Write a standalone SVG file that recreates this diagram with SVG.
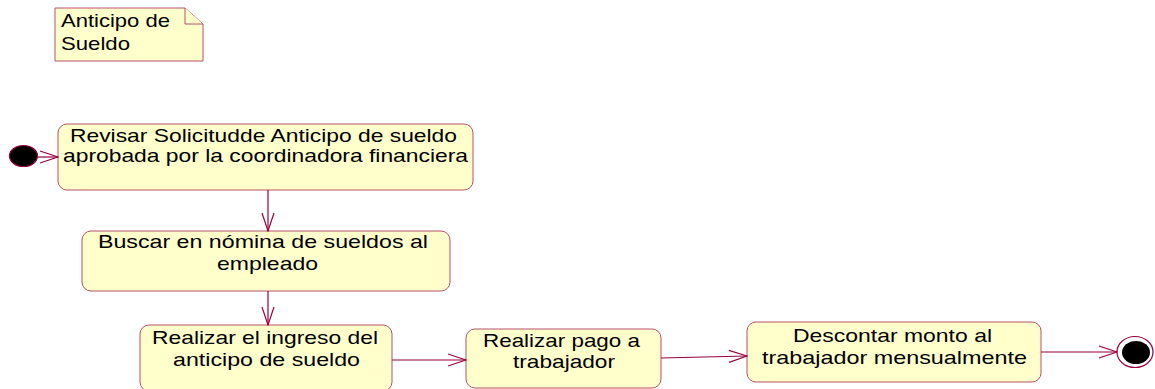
<svg xmlns="http://www.w3.org/2000/svg" width="1155" height="389" viewBox="0 0 1155 389">
<style>
.box{fill:#ffffcc;stroke:#b8506a;stroke-width:1}
.t{font-family:"Liberation Sans",Arial,sans-serif;font-size:19px;fill:#000}
.c{fill:none;stroke:#99003d;stroke-width:1.2}
.ah{fill:none;stroke:#99003d;stroke-width:1.2}
</style>
<defs>
<marker id="arr" markerWidth="20" markerHeight="14" refX="19" refY="7" orient="auto" markerUnits="userSpaceOnUse">
<path class="ah" d="M1,1 L19,7 L1,13"/>
</marker>
</defs>
<g id="note">
<path class="box" d="M55,8 H185 L203,24 V61 H55 Z"/>
<path class="box" d="M185,8 V24 H203" fill="none"/>
<text class="t" x="61" y="27" textLength="109" lengthAdjust="spacingAndGlyphs">Anticipo de</text>
<text class="t" x="61" y="50" textLength="69" lengthAdjust="spacingAndGlyphs">Sueldo</text>
</g>
<g id="start">
<ellipse cx="23.5" cy="156" rx="14" ry="10.5" fill="#000" stroke="#99003d" stroke-width="1.2"/>
</g>
<g id="n1">
<rect class="box" x="58" y="124" width="415" height="66" rx="9"/>
<text class="t" x="70" y="142" textLength="387" lengthAdjust="spacingAndGlyphs">Revisar Solicitudde Anticipo de sueldo</text>
<text class="t" x="63" y="162" textLength="405" lengthAdjust="spacingAndGlyphs">aprobada por la coordinadora financiera</text>
</g>
<g id="n2">
<rect class="box" x="82" y="231" width="368" height="60" rx="9"/>
<text class="t" x="98" y="248" textLength="330" lengthAdjust="spacingAndGlyphs">Buscar en nómina de sueldos al</text>
<text class="t" x="217" y="270" textLength="101" lengthAdjust="spacingAndGlyphs">empleado</text>
</g>
<g id="n3">
<rect class="box" x="140" y="325" width="252" height="66" rx="9"/>
<text class="t" x="152" y="344" textLength="226" lengthAdjust="spacingAndGlyphs">Realizar el ingreso del</text>
<text class="t" x="173" y="366" textLength="187" lengthAdjust="spacingAndGlyphs">anticipo de sueldo</text>
</g>
<g id="n4">
<rect class="box" x="466" y="329" width="195" height="59" rx="9"/>
<text class="t" x="483" y="347" textLength="157" lengthAdjust="spacingAndGlyphs">Realizar pago a</text>
<text class="t" x="513" y="368" textLength="102" lengthAdjust="spacingAndGlyphs">trabajador</text>
</g>
<g id="n5">
<rect class="box" x="747" y="322" width="294" height="60" rx="9"/>
<text class="t" x="793" y="342" textLength="199" lengthAdjust="spacingAndGlyphs">Descontar monto al</text>
<text class="t" x="762" y="364" textLength="265" lengthAdjust="spacingAndGlyphs">trabajador mensualmente</text>
</g>
<g id="end">
<ellipse cx="1135" cy="352" rx="18" ry="15.5" fill="#fff" stroke="#99003d" stroke-width="1.2"/>
<ellipse cx="1136" cy="352.5" rx="14" ry="11.5" fill="#000"/>
</g>
<g id="connectors">
<line class="c" x1="38" y1="157" x2="58" y2="157" marker-end="url(#arr)"/>
<line class="c" x1="268" y1="190" x2="268" y2="231" marker-end="url(#arr)"/>
<line class="c" x1="268" y1="291" x2="268" y2="325" marker-end="url(#arr)"/>
<line class="c" x1="392" y1="360" x2="466" y2="360" marker-end="url(#arr)"/>
<line class="c" x1="661" y1="358" x2="747" y2="356" marker-end="url(#arr)"/>
<line class="c" x1="1041" y1="352" x2="1117" y2="352" marker-end="url(#arr)"/>
</g>
</svg>
